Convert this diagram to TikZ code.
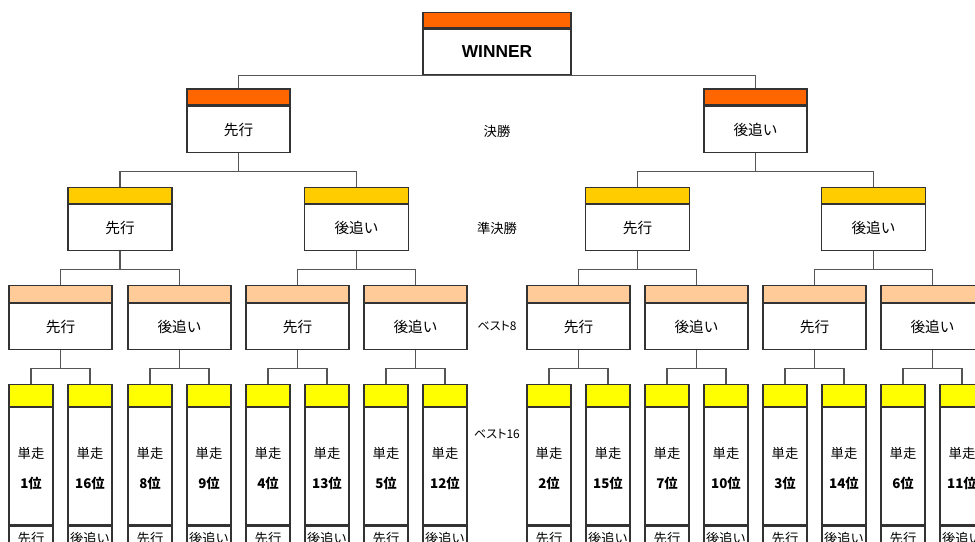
\documentclass[tikz,border=0pt]{standalone}
\usepackage{fontspec}
\setmainfont{Noto Sans CJK JP}
\newfontfamily\latinb{Liberation Sans}
\newfontfamily\jpp{Noto Sans CJK JP}[RawFeature=+palt]
\definecolor{boxc}{HTML}{333333}
\definecolor{linec}{HTML}{555555}
\definecolor{orangec}{HTML}{FF6600}
\definecolor{goldc}{HTML}{FFCC00}
\definecolor{peachc}{HTML}{FFCC99}
\definecolor{yellowc}{HTML}{FFFF00}
\begin{document}
\begin{tikzpicture}[x=0.75pt,y=-0.75pt,
  body/.style={draw=boxc, line width=1pt, fill=white, inner sep=0pt, align=center,
    font=\fontsize{11}{13}\selectfont},
  band/.style={draw=boxc, line width=1pt, fill=#1, inner sep=0pt, anchor=south},
  cell/.style={draw=boxc, line width=1pt, fill=white, inner sep=0pt, anchor=north,
    minimum width=33pt, minimum height=19.5pt, font=\fontsize{10}{12}\selectfont},
  seedtext/.style={inner sep=0pt, font=\fontsize{10}{12}\selectfont},
  link/.style={draw=linec, line width=0.8pt},
  roundlab/.style={font=\fontsize{10}{12}\selectfont, inner sep=0pt}]
\useasboundingbox (0,0) rectangle (975,542);
\clip (0,0) rectangle (975,542);
% winner
\node[body, minimum width=111pt, minimum height=34.5pt, font=\latinb\bfseries\fontsize{13}{15}\selectfont] (w) at (497,52) {WINNER};
\node[band=orangec, minimum width=111pt, minimum height=11.25pt] (wh) at (w.north) {};
% final
\foreach \x/\t [count=\i] in {238.5/先行,755.5/後追い}{
  \node[body, minimum width=77.25pt, minimum height=34.5pt] (f\i) at (\x,129.5) {\t};
  \node[band=orangec, minimum width=77.25pt, minimum height=12pt] (f\i h) at (f\i.north) {};
  \draw[link] (w.south) -| (f\i h.north);
}
% semi
\foreach \x/\t [count=\i] in {120/先行,356.5/後追い,637.5/先行,873.5/後追い}{
  \node[body, minimum width=78pt, minimum height=34.5pt] (h\i) at (\x,227.5) {\t};
  \node[band=goldc, minimum width=78pt, minimum height=12pt] (h\i h) at (h\i.north) {};
  \pgfmathtruncatemacro\p{(\i+1)/2}
  \draw[link] (f\p.south) -- ++(0,18) -| (h\i h.north);
}
% best 8
\foreach \x/\t [count=\i] in {60.5/先行,179.5/後追い,297.5/先行,415.5/後追い,578.5/先行,696.5/後追い,814.5/先行,932.5/後追い}{
  \node[body, minimum width=77.25pt, minimum height=34.5pt] (q\i) at (\x,326.5) {\t};
  \node[band=peachc, minimum width=77.25pt, minimum height=12.75pt] (q\i h) at (q\i.north) {};
  \pgfmathtruncatemacro\p{(\i+1)/2}
  \draw[link] (h\p.south) -- ++(0,18) -| (q\i h.north);
}
% best 16
\foreach \x/\s/\t [count=\i] in {31/1/先行,90/16/後追い,150/8/先行,209/9/後追い,268/4/先行,327/13/後追い,386/5/先行,445/12/後追い,549/2/先行,608/15/後追い,667/7/先行,726/10/後追い,785/3/先行,844/14/後追い,903/6/先行,962/11/後追い}{
  \node[body, minimum width=33pt, minimum height=87.75pt] (s\i) at (\x,466) {};
  \node[band=yellowc, minimum width=33pt, minimum height=16.5pt] (s\i h) at (s\i.north) {};
  \node[seedtext] (s\i a) at (\x,453) {単走};
  \node[seedtext] (s\i b) at (\x,483) {\textbf{\s 位}};
  \node[cell] (s\i c) at (s\i.south) {\t};
  \pgfmathtruncatemacro\p{(\i+1)/2}
  \draw[link] (q\p.south) -- ++(0,18) -| (s\i h.north);
}
% round labels
\node[roundlab] (r1) at (497,131) {決勝};
\node[roundlab] (r2) at (497,228) {準決勝};
\node[roundlab, font=\jpp\fontsize{9}{11}\selectfont] (r3) at (497,326) {ベスト8};
\node[roundlab, font=\jpp\fontsize{9}{11}\selectfont] (r4) at (497,434) {ベスト16};
\end{tikzpicture}
\end{document}
